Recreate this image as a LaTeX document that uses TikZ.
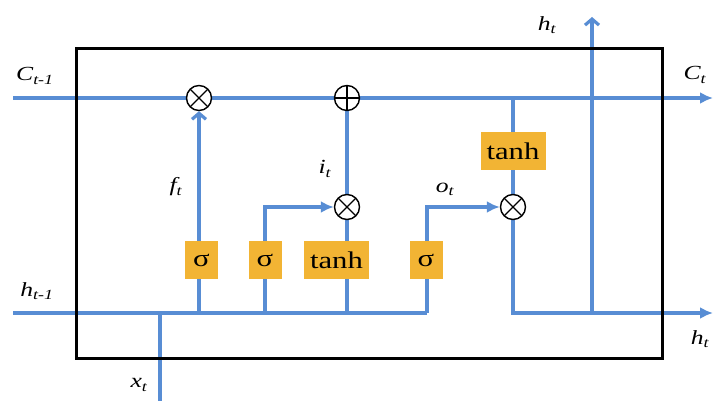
\documentclass[tikz,border=0pt]{standalone}
\usepackage{graphicx}
\usepackage{fontspec}
\setmainfont{Liberation Serif}
\usetikzlibrary{arrows.meta}
\definecolor{flowblue}{RGB}{88,141,212}
\definecolor{gateorange}{RGB}{242,180,52}
\newcommand\wtxt[1]{\scalebox{1.28}[1]{#1}}
\pgfdeclarelayer{bg}
\pgfsetlayers{bg,main}
\begin{document}
\begin{tikzpicture}[x=1pt,y=-1pt,
  flow/.style={draw=flowblue,line width=3.2pt},
  gatebox/.style={fill=gateorange,inner sep=0pt,minimum height=38pt,
    font=\fontsize{24}{26}\selectfont},
  sigbox/.style={gatebox,minimum width=33pt},
  tanhbox/.style={gatebox,minimum width=65pt},
  opmul/.style={circle,draw=black,line width=1.4pt,fill=white,minimum size=25pt,inner sep=0pt,
    path picture={\draw[line width=1.4pt] (path picture bounding box.north west) -- (path picture bounding box.south east)
      (path picture bounding box.north east) -- (path picture bounding box.south west);}},
  opadd/.style={circle,draw=black,line width=1.4pt,fill=white,minimum size=25pt,inner sep=0pt,
    path picture={\draw[line width=1.4pt] (path picture bounding box.north) -- (path picture bounding box.south)
      (path picture bounding box.west) -- (path picture bounding box.east);}},
  lbl/.style={inner sep=0pt,font=\fontsize{20}{22}\selectfont\itshape},
  tip/.style={-{Latex[length=13pt,width=12pt]}},
  barb/.style={-{Straight Barb[length=6pt,width=14pt]}}
]
\useasboundingbox (0,0) rectangle (713,401);

% cell frame
\node[draw=black,line width=3pt,minimum width=586pt,minimum height=309pt,inner sep=0pt] (cell) at (369,203.5) {};

% operators
\node[opmul] (mulF) at (199,98) {};
\node[opadd] (addC) at (347,98) {};
\node[opmul] (mulI) at (347,207) {};
\node[opmul] (mulO) at (513,207) {};

% gates
\node[sigbox] (sF) at (201.5,260) {\wtxt{σ}};
\node[sigbox] (sI) at (265,260) {\wtxt{σ}};
\node[tanhbox] (tI) at (336.5,260) {\wtxt{tanh}};
\node[sigbox] (sO) at (426,260) {\wtxt{σ}};
\node[tanhbox] (tC) at (513,151.5) {\wtxt{tanh}};

% coordinates
\coordinate (Cin) at (13,98);
\coordinate (Cout) at (713,98);
\coordinate (hin) at (13,313);
\coordinate (jF) at (199,313);
\coordinate (jI) at (265,313);
\coordinate (jT) at (347,313);
\coordinate (jO) at (427,313);
\coordinate (xin) at (160,401);
\coordinate (xj) at (160,313);
\coordinate (oT) at (513,98);
\coordinate (hout) at (713,313);
\coordinate (hT) at (592,313);
\coordinate (htop) at (592,17);

\begin{pgfonlayer}{bg}
\draw[flow] (Cin) -- (mulF);
\draw[flow] (mulF) -- (addC);
\draw[flow,tip] (addC) -- (Cout);
\draw[flow] (hin) -- (jO);
\draw[flow] (xin) -- (xj);
\draw[flow,barb] (jF) -- (mulF);
\draw[flow,tip] (jI) |- (mulI);
\draw[flow] (jT) -- (mulI);
\draw[flow] (mulI) -- (addC);
\draw[flow,tip] (jO) |- (mulO);
\draw[flow] (oT) -- (mulO);
\draw[flow,tip] (mulO) |- (hout);
\draw[flow,barb] (hT) -- (htop);
\end{pgfonlayer}

% labels
\node[lbl] (lC0) at (35,76) {\wtxt{C\textsubscript{t-1}}};
\node[lbl] (lC1) at (695,75) {\wtxt{C\textsubscript{t}}};
\node[lbl] (lh0) at (37,291) {\wtxt{h\textsubscript{t-1}}};
\node[lbl] (lh1) at (700,339) {\wtxt{h\textsubscript{t}}};
\node[lbl] (lh2) at (547,25) {\wtxt{h\textsubscript{t}}};
\node[lbl] (lx) at (139,385) {\wtxt{x\textsubscript{t}}};
\node[lbl] (lf) at (176,187) {\wtxt{f\textsubscript{t}}};
\node[lbl] (li) at (325,169) {\wtxt{i\textsubscript{t}}};
\node[lbl] (lo) at (445,189) {\wtxt{o\textsubscript{t}}};
\end{tikzpicture}
\end{document}
